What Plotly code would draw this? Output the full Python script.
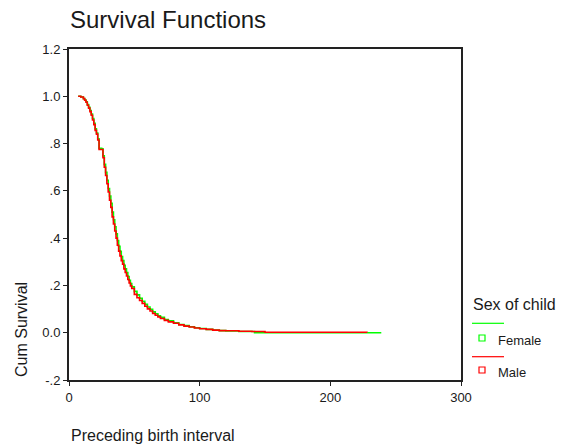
import plotly.graph_objects as go

# Kaplan-Meier step data (time in months, cumulative survival)
female_t = [7, 9, 11, 12, 13, 14, 15, 16, 17, 18, 19, 20, 21, 22, 23, 25, 26, 27, 28, 29,
            30, 31, 32, 33, 34, 35, 36, 37, 38, 39, 40, 41, 42, 43, 44, 45, 46, 47, 48, 50,
            52, 54, 56, 58, 60, 62, 64, 66, 68, 70, 73, 76, 80, 84, 88, 92, 96, 100, 105, 110,
            115, 120, 130, 142, 239]
female_s = [1.0, 0.997, 0.99, 0.984, 0.977, 0.965, 0.953, 0.94, 0.925, 0.906, 0.886, 0.862, 0.845, 0.82, 0.78, 0.778, 0.748, 0.712, 0.678, 0.645,
            0.61, 0.578, 0.547, 0.51, 0.478, 0.448, 0.418, 0.39, 0.366, 0.344, 0.322, 0.305, 0.285, 0.27, 0.254, 0.238, 0.222, 0.208, 0.194, 0.175,
            0.16, 0.146, 0.133, 0.12, 0.109, 0.099, 0.088, 0.08, 0.072, 0.065, 0.056, 0.05, 0.042, 0.035, 0.03, 0.025, 0.021, 0.018, 0.014, 0.011,
            0.009, 0.007, 0.005, 0.0, 0.0]

male_t = [7, 9, 11, 12, 13, 14, 15, 16, 17, 18, 19, 20, 21, 22, 23, 25, 26, 27, 28, 29,
          30, 31, 32, 33, 34, 35, 36, 37, 38, 39, 40, 41, 42, 43, 44, 45, 46, 47, 48, 50,
          52, 54, 56, 58, 60, 62, 64, 66, 68, 70, 73, 76, 80, 84, 88, 92, 96, 100, 105, 110,
          115, 120, 130, 140, 150, 228]
male_s = [1.0, 0.997, 0.99, 0.983, 0.975, 0.962, 0.95, 0.935, 0.92, 0.9, 0.88, 0.856, 0.84, 0.815, 0.775, 0.775, 0.74, 0.7, 0.665, 0.63,
          0.595, 0.56, 0.53, 0.49, 0.46, 0.43, 0.4, 0.37, 0.345, 0.325, 0.305, 0.29, 0.27, 0.255, 0.24, 0.225, 0.21, 0.198, 0.187, 0.162,
          0.148, 0.136, 0.124, 0.112, 0.101, 0.092, 0.081, 0.074, 0.067, 0.06, 0.052, 0.046, 0.04, 0.033, 0.028, 0.024, 0.02, 0.017, 0.014, 0.011,
          0.009, 0.008, 0.006, 0.005, 0.002, 0.001]

x_ticks = [0, 100, 200, 300]
y_ticks = [1.2, 1.0, 0.8, 0.6, 0.4, 0.2, 0.0, -0.2]
y_tick_labels = ["1.2", "1.0", ".8", ".6", ".4", ".2", "0.0", "-.2"]

groups = ["Female", "Male"]
colors = ["#00ff00", "#ff0000"]

FONT = "Liberation Sans, Arial, sans-serif"
TXT = "#1a1a1a"

fig = go.Figure()
fig.add_trace(go.Scatter(x=female_t, y=female_s, mode="lines", line_shape="hv",
                         line=dict(color=colors[0], width=1.6), name=groups[0], showlegend=False))
fig.add_trace(go.Scatter(x=male_t, y=male_s, mode="lines", line_shape="hv",
                         line=dict(color=colors[1], width=1.6), name=groups[1], showlegend=False))

L, R, T, B = 69, 105, 49, 68
W, H = 566, 448
pw, ph = W - L - R, H - T - B

def px(xp):
    return (xp - L) / pw

def py(yp):
    return (H - B - yp) / ph

annotations = [
    dict(text="Survival Functions", x=px(68), y=py(20), xref="paper", yref="paper",
         xanchor="left", yanchor="middle", showarrow=False, font=dict(family=FONT, size=24, color=TXT)),
    dict(text="Cum Survival", x=px(21), y=py(330), xref="paper", yref="paper", textangle=-90,
         xanchor="center", yanchor="middle", showarrow=False, font=dict(family=FONT, size=16, color=TXT)),
    dict(text="Preceding birth interval", x=px(69), y=py(435), xref="paper", yref="paper",
         xanchor="left", yanchor="middle", showarrow=False, font=dict(family=FONT, size=16, color=TXT)),
    dict(text="Sex of child", x=px(471), y=py(304), xref="paper", yref="paper",
         xanchor="left", yanchor="middle", showarrow=False, font=dict(family=FONT, size=16, color=TXT)),
]
shapes = []
legend_rows = [(323.3, 338, 340), (356.7, 370, 372)]
for g, c, (ly, sy, ty) in zip(groups, colors, legend_rows):
    shapes.append(dict(type="line", xref="paper", yref="paper", x0=px(472), x1=px(504),
                       y0=py(ly), y1=py(ly), line=dict(color=c, width=1.2)))
    shapes.append(dict(type="rect", xref="paper", yref="paper", xsizemode="pixel", ysizemode="pixel",
                       xanchor=px(482), yanchor=py(sy), x0=-3, x1=3, y0=-3, y1=3,
                       line=dict(color=c, width=1.2), fillcolor="rgba(0,0,0,0)"))
    annotations.append(dict(text=g, x=px(496), y=py(ty), xref="paper", yref="paper",
                            xanchor="left", yanchor="middle", showarrow=False,
                            font=dict(family=FONT, size=13, color=TXT)))

fig.update_layout(
    width=W, height=H,
    margin=dict(l=L, r=R, t=T, b=B, pad=0),
    plot_bgcolor="white", paper_bgcolor="white",
    font=dict(family=FONT, size=13, color=TXT),
    annotations=annotations, shapes=shapes,
    xaxis=dict(range=[0, 300], tickvals=x_ticks, ticks="outside", ticklen=4, tickwidth=1,
               tickcolor="#222", showgrid=False, zeroline=False, showline=True, linewidth=2,
               linecolor="#222", mirror=True, tickfont=dict(size=13, color=TXT)),
    yaxis=dict(range=[-0.2, 1.2], tickvals=y_ticks, ticktext=y_tick_labels, ticks="outside",
               ticklen=4, tickwidth=1, tickcolor="#222", showgrid=False, zeroline=False,
               showline=True, linewidth=2, linecolor="#222", mirror=True,
               tickfont=dict(size=13, color=TXT)),
    showlegend=False,
)

fig.write_html("out.html")
